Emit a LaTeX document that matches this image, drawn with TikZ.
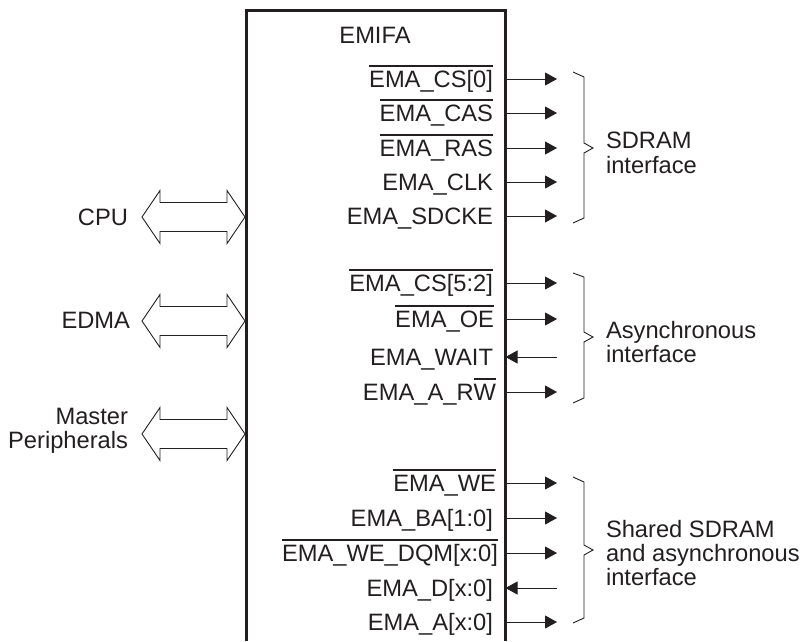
\documentclass[tikz,border=0pt]{standalone}
\usepackage{fontspec}
\setmainfont{Liberation Sans}
\usetikzlibrary{arrows.meta}
\definecolor{ink}{HTML}{231F20}
\newsavebox\ovlbox
\newcommand\ovl[1]{\sbox\ovlbox{#1}\rlap{\rule[0.86em]{\wd\ovlbox}{1.7pt}}\usebox\ovlbox}
\begin{document}
\begin{tikzpicture}[x=1pt,y=-1pt,
  every node/.style={inner sep=0pt,outer sep=0pt,text=ink,font=\fontsize{23.7}{26}\selectfont},
  sigtext/.style={anchor=base east},
  lbl/.style={anchor=base west},
  sig/.style={draw=ink,line width=0.9pt,-{Triangle[length=12pt,width=13pt]}},
  thin/.style={draw=ink,line width=0.9pt,line join=miter},
  boxline/.style={draw=ink,line width=3pt}]
\useasboundingbox (0,0) rectangle (803,641);
% main block
\draw[boxline] (246,641) -- (246,10) -- (505.5,10) -- (505.5,641);
\node (emifa) at (375,43) [anchor=base] {EMIFA};
% signal labels
\node[sigtext] (t1) at (493,87) {\ovl{EMA\_CS[0]}};
\node[sigtext] (t2) at (493,121) {\ovl{EMA\_CAS}};
\node[sigtext] (t3) at (493,156) {\ovl{EMA\_RAS}};
\node[sigtext] (t4) at (493,190) {EMA\_CLK};
\node[sigtext] (t5) at (493,224) {EMA\_SDCKE};
\node[sigtext] (t6) at (493,291) {\ovl{EMA\_CS[5:2]}};
\node[sigtext] (t7) at (494,327) {\ovl{EMA\_OE}};
\node[sigtext] (t8) at (493,365) {EMA\_WAIT};
\node[sigtext] (t9) at (496,400) {EMA\_A\_R\ovl{W}};
\node[sigtext] (t10) at (496,491) {\ovl{EMA\_WE}};
\node[sigtext] (t11) at (493,526) {EMA\_BA[1:0]};
\node[sigtext] (t12) at (498,561) {\ovl{EMA\_WE\_DQM[x:0]}};
\node[sigtext] (t13) at (493,596) {EMA\_D[x:0]};
\node[sigtext] (t14) at (493,630) {EMA\_A[x:0]};
% connector endpoints
\foreach \n/\y in {1/79,2/113,3/148,4/182,5/216,6/283,7/319,8/357,9/392,10/483,11/518,12/553,13/588,14/622}{
  \coordinate (b\n) at (505.5,\y);
  \coordinate (e\n) at (557,\y);
}
\foreach \n in {1,2,3,4,5,6,7,9,10,11,12,14}{\draw[sig] (b\n) -- (e\n);}
\foreach \n in {8,13}{\draw[sig] (e\n) -- (b\n);}
% braces
\draw[thin] (573,72) -- (584,77) -- (584,143) -- (593,148) -- (584,153) -- (584,218) -- (573,223);
\draw[thin] (573,273) -- (584,277) -- (584,332) -- (593,337) -- (584,342) -- (584,398) -- (573,403);
\draw[thin] (573,477) -- (584,482) -- (584,545) -- (593,550) -- (584,555) -- (584,618) -- (573,623);
% brace labels
\node[lbl] (g1a) at (606,148) {SDRAM};
\node[lbl] (g1b) at (606,173) {interface};
\node[lbl] (g2a) at (606,338) {Asynchronous};
\node[lbl] (g2b) at (606,362) {interface};
\node[lbl] (g3a) at (606,537) {Shared SDRAM};
\node[lbl] (g3b) at (606,561) {and asynchronous};
\node[lbl] (g3c) at (606,585) {interface};
% masters
\tikzset{dbl/.pic={\draw[thin] (-51.5,0) -- (-33.5,-26.5) -- (-33.5,-14.5) -- (33.5,-14.5) -- (33.5,-26.5) -- (51.5,0) -- (33.5,26.5) -- (33.5,14.5) -- (-33.5,14.5) -- (-33.5,26.5) -- cycle;}}
\pic at (193.5,217) {dbl};
\pic at (193.5,321) {dbl};
\pic at (193.5,434) {dbl};
\node[anchor=base east] (cpu) at (128,225) {CPU};
\node[anchor=base east] (edma) at (130,328) {EDMA};
\node[anchor=base east] (mp1) at (128,424) {Master};
\node[anchor=base east] (mp2) at (128,448) {Peripherals};
\end{tikzpicture}
\end{document}
